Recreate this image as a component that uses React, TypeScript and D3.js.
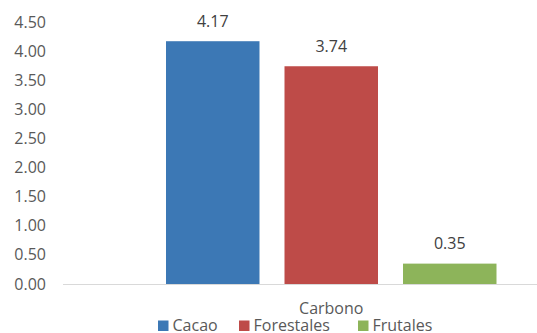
import React from "react";
import * as d3 from "d3";

const categories = ["Carbono"];
const seriesNames = ["Cacao", "Forestales", "Frutales"];
const seriesValues = [4.17, 3.74, 0.35];
const seriesColors = ["#3C78B5", "#BE4B48", "#8DB45A"];
const yTicks = [0, 0.5, 1, 1.5, 2, 2.5, 3, 3.5, 4, 4.5];

const W = 537;
const H = 333;
const FONT = "'Open Sans', sans-serif";

export default function App() {
  const y = d3.scaleLinear().domain([0, 4.5]).range([284, 22]);
  const x0 = d3.scaleBand().domain(categories).range([166, 496.5]).padding(0);
  const inner = x0.bandwidth();
  const x1 = d3
    .scaleBand()
    .domain(seriesNames)
    .range([0, inner])
    .paddingInner(0.211)
    .paddingOuter(0);

  const legendX = [158, 239, 358];

  return (
    <svg width={W} height={H} style={{ position: "absolute", left: 0, top: 0 }}>
      <rect x={0} y={0} width={W} height={H} fill="#fff" />
      {yTicks.map((t) => (
        <text
          key={t}
          x={46}
          y={y(t)}
          dy="0.35em"
          textAnchor="end"
          fontFamily={FONT}
          fontSize={16}
          fill="#595959"
        >
          {d3.format(".2f")(t)}
        </text>
      ))}
      {categories.map((c) => (
        <g key={c} transform={`translate(${x0(c)},0)`}>
          {seriesNames.map((s, i) => (
            <g key={s}>
              <rect
                x={x1(s)}
                y={y(seriesValues[i])}
                width={x1.bandwidth()}
                height={y(0) - y(seriesValues[i])}
                fill={seriesColors[i]}
              />
              <text
                x={(x1(s) as number) + x1.bandwidth() / 2}
                y={y(seriesValues[i]) - 20}
                dy="0.35em"
                textAnchor="middle"
                fontFamily={FONT}
                fontSize={16}
                fill="#404040"
              >
                {d3.format(".2f")(seriesValues[i])}
              </text>
            </g>
          ))}
          <text
            x={inner / 2}
            y={308}
            dy="0.35em"
            textAnchor="middle"
            fontFamily={FONT}
            fontSize={16}
            fill="#595959"
          >
            {c}
          </text>
        </g>
      ))}
      <line x1={63} x2={W} y1={y(0) + 0.5} y2={y(0) + 0.5} stroke="#D9D9D9" strokeWidth={1} />
      {seriesNames.map((s, i) => (
        <g key={s}>
          <rect x={legendX[i]} y={320.5} width={10.5} height={10.5} fill={seriesColors[i]} />
          <text
            x={legendX[i] + 14.5}
            y={325}
            dy="0.35em"
            fontFamily={FONT}
            fontSize={16}
            fill="#595959"
          >
            {s}
          </text>
        </g>
      ))}
    </svg>
  );
}
